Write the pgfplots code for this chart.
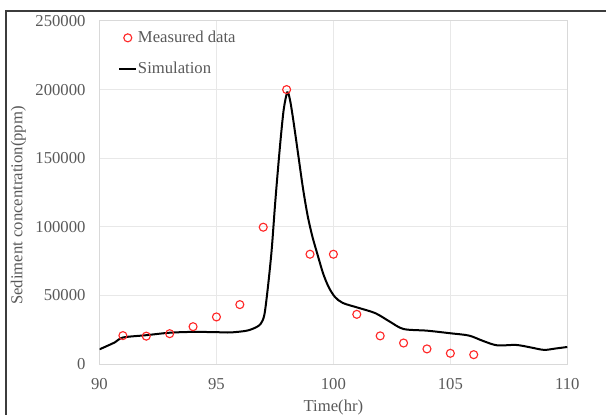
\documentclass[border=0pt]{standalone}
\usepackage{fontspec}
\setmainfont{Liberation Serif}
\usepackage{pgfplots}
\pgfplotsset{compat=1.18}
\definecolor{gridgray}{RGB}{232,232,232}
\definecolor{axisgray}{RGB}{217,217,217}
\definecolor{labelgray}{RGB}{89,89,89}
\definecolor{markred}{RGB}{255,40,40}
\definecolor{framegray}{RGB}{60,60,60}

\begin{document}
\begin{tikzpicture}
\path[use as bounding box] (0pt,0pt) rectangle (454.5pt,310.5pt);
\draw[framegray, line width=1pt] (4.5pt,-5pt) -- (4.5pt,302.25pt) -- (460pt,302.25pt);
\begin{axis}[
  at={(74.625pt,37.5pt)}, anchor=south west,
  scale only axis, width=350.85pt, height=257.25pt,
  xmin=90, xmax=110, ymin=0, ymax=250000,
  xtick={90,95,100,105,110},
  ytick={0,50000,100000,150000,200000,250000},
  scaled y ticks=false,
  /pgf/number format/assume math mode=true,
  yticklabel style={/pgf/number format/fixed, /pgf/number format/1000 sep={}, xshift=-7pt},
  xticklabel style={yshift=-7.5pt},
  ticklabel style={font=\fontsize{12.5}{14}\selectfont, color=labelgray},
  major tick length=0pt,
  grid=major,
  grid style={draw=gridgray, line width=0.75pt},
  axis line style={draw=axisgray, line width=0.75pt},
  xlabel={Time(hr)},
  ylabel={Sediment concentration(ppm)},
  label style={font=\fontsize{12.5}{14}\selectfont, color=labelgray},
  xlabel style={at={(axis description cs:0.5,0)}, anchor=base, yshift=-35.5pt},
  ylabel style={at={(axis description cs:-0.1733,0.462)}, anchor=center},
  legend style={draw=none, fill=none, at={(0.0395,0.975)}, anchor=north west,
    inner sep=0pt, row sep=11.25pt,
    font=\fontsize{12.5}{14}\selectfont, text=labelgray,
    nodes={text height=9pt, text depth=2pt, inner sep=0.5pt}},
  legend cell align=left,
  legend image code/.code={\draw[mark repeat=2,mark phase=2,#1] plot coordinates {(0cm,0cm) (0.225cm,0cm) (0.45cm,0cm)};},
]
\addplot[only marks, mark=o, mark size=3pt, draw=markred, line width=0.85pt]
  coordinates {
  (91,20700) (92,20300) (93,22100) (94,27200) (95,34300) (96,43300)
  (97,99700) (98,200000) (99,80000) (100,80000) (101,36200) (102,20500)
  (103,15300) (104,11000) (105,7800) (106,6800)
  };
\addlegendentry{Measured data}
\addplot[black, line width=1.5pt, smooth, tension=0.5, no marks] coordinates {
  (90.0,10700) (90.66,15800) (91.0,19300) (92.0,21000) (93.0,22800)
  (94.0,23400) (95.0,23200) (95.6,23000) (96.3,24300) (96.7,26800)
  (96.9,29500) (97.05,36000) (97.2,56000) (97.36,83000) (97.5,115000)
  (97.62,140000) (97.75,165000) (97.88,186000) (98.03,198000) (98.15,192000)
  (98.3,176000) (98.5,152000) (98.7,128000) (98.9,108000) (99.1,93000)
  (99.3,81000) (99.56,66000) (99.8,56000) (100.06,49000) (100.4,44500)
  (101.1,40800) (101.8,37000) (102.4,31000) (103.0,25500) (104.0,24300)
  (105.0,22400) (105.8,20700) (106.4,16800) (107.0,13600) (107.8,13900)
  (108.4,12200) (109.0,10300) (109.5,11300) (110.0,12400)
  };
\addlegendentry{Simulation}
\end{axis}
\end{tikzpicture}
\end{document}
